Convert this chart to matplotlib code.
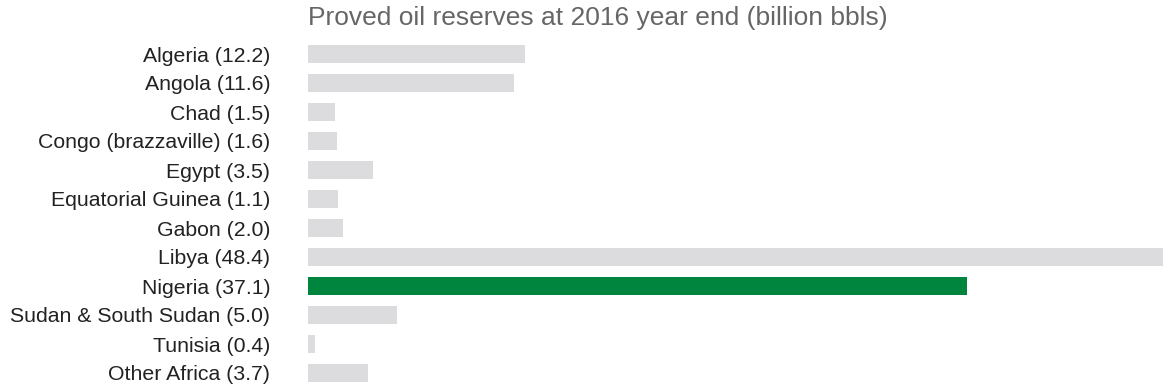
import matplotlib
matplotlib.use("Agg")
import matplotlib.pyplot as plt

plt.rcParams['font.family'] = ['Liberation Sans', 'DejaVu Sans']

# Data
countries = ["Algeria", "Angola", "Chad", "Congo (brazzaville)", "Egypt",
             "Equatorial Guinea", "Gabon", "Libya", "Nigeria",
             "Sudan & South Sudan", "Tunisia", "Other Africa"]
label_values = ["12.2", "11.6", "1.5", "1.6", "3.5", "1.1", "2.0", "48.4",
                "37.1", "5.0", "0.4", "3.7"]
bar_lengths = [12.28, 11.66, 1.53, 1.65, 3.68, 1.70, 1.98, 48.4, 37.3, 5.04, 0.40, 3.40]
highlight = "Nigeria"

grey = "#dcdcde"
green = "#00853f"

fig = plt.figure(figsize=(11.63, 3.89), dpi=100)
ax = fig.add_axes((308 / 1163, 1.5 / 389, 1 - 308 / 1163, 348 / 389))

ypos = list(range(len(countries)))
colors = [green if c == highlight else grey for c in countries]
ax.barh(ypos, bar_lengths, height=0.62, color=colors)

ax.set_xlim(0, 48.4)
ax.set_ylim(len(countries) - 0.5, -0.5)
ax.set_yticks(ypos)
ax.set_yticklabels([f"{c} ({v})" for c, v in zip(countries, label_values)],
                   fontsize=15.3, color="#222222")
ax.tick_params(axis='y', length=0, pad=27)
ax.set_xticks([])
for s in ax.spines.values():
    s.set_visible(False)

fig.text(308 / 1163, 1 - 25 / 389, "Proved oil reserves at 2016 year end (billion bbls)",
         fontsize=19, color="#666666", ha='left', va='baseline')

fig.savefig("out.png", dpi=100)
